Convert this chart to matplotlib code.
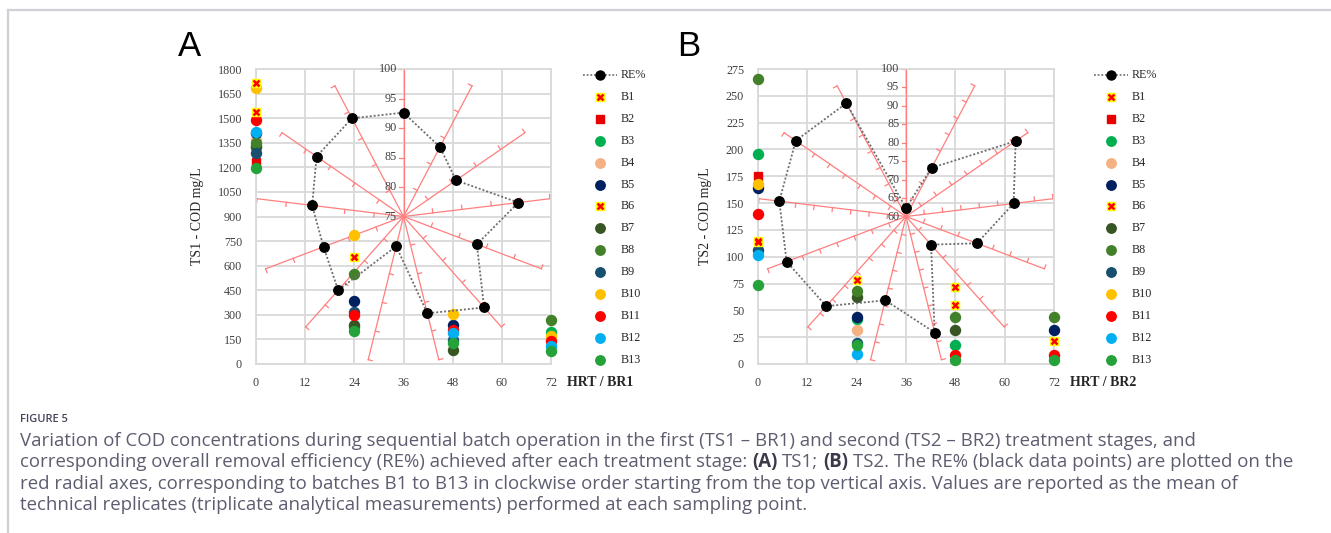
import numpy as np
import matplotlib.pyplot as plt
from matplotlib.transforms import Affine2D

W, H = 1331, 533
nan = np.nan

# HRT sampling points (h) and batch names
hrt = [0, 24, 48, 72]
batches = ['B1', 'B2', 'B3', 'B4', 'B5', 'B6', 'B7', 'B8', 'B9', 'B10', 'B11', 'B12', 'B13']

# COD (mg/L) per batch at HRT 0, 24, 48, 72 - stage 1 (TS1 / BR1)
cod_ts1 = [
    [1716, nan, nan, nan],
    [1234, nan, nan, nan],
    [1330, 224, nan, 195],
    [1367, nan, nan, nan],
    [1410, 386, 238, nan],
    [1539, 653, nan, nan],
    [1322, 240, 87, nan],
    [1347, 549, nan, 266],
    [1286, 317, 148, nan],
    [1682, 785, 307, 173],
    [1489, 301, 209, 142],
    [1417, nan, 189, 108],
    [1194, 199, 128, 77],
]

# COD (mg/L) per batch - stage 2 (TS2 / BR2)
cod_ts2 = [
    [115, nan, 72, nan],
    [175, nan, nan, nan],
    [196, 42, 17.7, nan],
    [nan, 32, nan, nan],
    [164, 43.8, nan, 31.7],
    [114, 78.6, 55, 21.8],
    [nan, 62, 31.7, nan],
    [266, 67.7, 44, 44],
    [106.6, 20, nan, nan],
    [168, nan, nan, nan],
    [140, nan, 8.4, 8.7],
    [102, 9.6, nan, nan],
    [74, 18, 4, 4],
]

# overall removal efficiency RE% for B1..B13 (radial axes)
re_ts1 = [92.6, 88.3, 85.8, 94.6, 88.3, 95.6, 91.9, 80.2, 91.7, 89.5, 90.6, 92.9, 93.8]
re_ts2 = [62.3, 74.9, 96.0, 89.3, 80.5, 70.2, 92.4, 83.4, 92.5, 94.5, 94.5, 96.2, 94.7]

colors = ['#ff0000', '#e60000', '#00b050', '#f4b183', '#002060', '#ff0000', '#375623',
          '#43802a', '#174f6e', '#ffc000', '#ff0000', '#00b0f0', '#25a23a']
markers = ['x', 's', 'o', 'o', 'o', 'x', 'o', 'o', 'o', 'o', 'o', 'o', 'o']

caption_lines = [
    [("Variation of COD concentrations during sequential batch operation in the first (TS1 \u2013 BR1) "
      "and second (TS2 \u2013 BR2) treatment stages, and", 'normal')],
    [("corresponding overall removal efficiency (RE%) achieved after each treatment stage:", 'normal'),
     ("(A)", 'bold'), ("TS1;", 'normal'), ("(B)", 'bold'),
     ("TS2. The RE% (black data points) are plotted on the", 'normal')],
    [("red radial axes, corresponding to batches B1 to B13 in clockwise order starting from the top "
      "vertical axis. Values are reported as the mean of", 'normal')],
    [("technical replicates (triplicate analytical measurements) performed at each sampling point.", 'normal')],
]

plt.rcParams['font.family'] = ['Liberation Serif', 'DejaVu Serif']
fig = plt.figure(figsize=(W / 100, H / 100), dpi=100)


def rect(l, t, r, b):
    return [l / W, 1 - b / H, (r - l) / W, (b - t) / H]


def draw_panel(box, cod, re, ymax, ystep, rmin, ylabel, xlabel):
    ax = fig.add_axes(rect(*box))
    ax.set_xlim(0, 72)
    ax.set_ylim(0, ymax)
    ax.set_xticks(np.arange(0, 73, 12))
    ax.set_yticks(np.arange(0, ymax + 1, ystep))
    ax.grid(True, color='#d9d9d9', lw=1.3)
    ax.set_axisbelow(True)
    for s in ax.spines.values():
        s.set_color('#d9d9d9')
        s.set_linewidth(1.3)
    ax.tick_params(length=0, labelsize=8.7, labelcolor='#404040', pad=9)
    ax.tick_params(axis='y', pad=10)
    ax.set_ylabel(ylabel, fontsize=10, color='#262626', labelpad=10)

    # COD scatter per batch
    for i, vals in enumerate(cod):
        if markers[i] == 'x':
            ax.plot(hrt, vals, ls='none', marker='s', ms=6.2, color='#ffff00', zorder=6, clip_on=False)
            ax.plot(hrt, vals, ls='none', marker='x', ms=5, mew=1.8, color=colors[i], zorder=7, clip_on=False)
        elif markers[i] == 's':
            ax.plot(hrt, vals, ls='none', marker='s', ms=6.3, color=colors[i], zorder=4, clip_on=False)
        else:
            ax.plot(hrt, vals, ls='none', marker='o', ms=7.2, color=colors[i], zorder=4, clip_on=False)

    # radar overlay: unit circle mapped on the plot box
    tr = Affine2D().scale(36, ymax / 2).translate(36, ymax / 2) + ax.transData
    n = len(re)
    ang = np.arange(n) * 2 * np.pi / n
    span = 100 - rmin
    tick_vals = np.arange(rmin + 5, 101, 5)
    for a in ang:
        d = np.array([np.sin(a), np.cos(a)])
        p = np.array([-d[1], d[0]])
        ax.plot([0, d[0]], [0, d[1]], color='#ff7f7f', lw=0.9, transform=tr, zorder=2, clip_on=False)
        for v in tick_vals:
            r = (v - rmin) / span
            ax.plot([r * d[0], r * d[0] + 0.028 * p[0]], [r * d[1], r * d[1] + 0.028 * p[1]],
                    color='#ff7f7f', lw=0.9, transform=tr, zorder=2, clip_on=False)
    for v in np.arange(rmin, 101, 5):
        ax.text(-0.045, (v - rmin) / span, str(v), ha='right', va='center', fontsize=8.7,
                color='#404040', transform=tr, zorder=3)
    rr = (np.array(re) - rmin) / span
    xs = np.append(rr * np.sin(ang), rr[0] * np.sin(ang[0]))
    ys = np.append(rr * np.cos(ang), rr[0] * np.cos(ang[0]))
    ax.plot(xs, ys, color='#6e6e6e', lw=1.3, ls=(0, (1.1, 1.1)), transform=tr, zorder=8, clip_on=False)
    ax.plot(xs[:-1], ys[:-1], ls='none', marker='o', ms=6.8, color='black', transform=tr, zorder=9,
            clip_on=False)

    fig.text((box[2] + 16) / W, 1 - 383 / H, xlabel, fontsize=10, fontweight='bold', color='#262626',
             va='center', ha='left')
    return ax


draw_panel((256, 69, 551, 364), cod_ts1, re_ts1, 1800, 150, 75, 'TS1 - COD mg/L', 'HRT / BR1')
draw_panel((758, 69, 1054, 364), cod_ts2, re_ts2, 275, 25, 60, 'TS2 - COD mg/L', 'HRT / BR2')

# overlay in pixel coordinates for legends, frame and caption
ov = fig.add_axes([0, 0, 1, 1], zorder=10)
ov.set_xlim(0, W)
ov.set_ylim(H, 0)
ov.axis('off')

ov.plot([8, 8], [H, 10], color='#cfcfd5', lw=1.6)
ov.plot([8, W], [10, 10], color='#cfcfd5', lw=1.6)

for letter, lx in [('A', 178), ('B', 677)]:
    ov.text(lx, 47, letter, fontsize=25, family='Liberation Sans', va='center', ha='left', color='black')

for mx in [600, 1111]:
    y0 = 75
    ov.plot([mx - 17, mx + 17], [y0, y0], color='#6e6e6e', lw=1.2, ls=(0, (1.1, 1.1)))
    ov.plot([mx], [y0], marker='o', ms=6.5, color='black')
    ov.text(mx + 21, y0, 'RE%', fontsize=8.7, va='center', color='#262626')
    for i, name in enumerate(batches):
        y = y0 + 21.9 * (i + 1)
        if markers[i] == 'x':
            ov.plot([mx], [y], marker='s', ms=6, color='#ffff00')
            ov.plot([mx], [y], marker='x', ms=4.8, mew=1.8, color=colors[i])
        elif markers[i] == 's':
            ov.plot([mx], [y], marker='s', ms=6, color=colors[i])
        else:
            ov.plot([mx], [y], marker='o', ms=6.8, color=colors[i])
        ov.text(mx + 21, y, name, fontsize=8.7, va='center', color='#262626')

# caption
cap_font = 'Open Sans'
cap_col = '#5d5d70'
ov.text(20, 420, 'FIGURE 5', fontsize=8, family=cap_font, fontweight='semibold', color='#45455a',
        va='center')
renderer = fig.canvas.get_renderer()
probe = ov.text(0, 0, caption_lines[1][0][0] + ' (A) TS1; (B) ' + caption_lines[1][4][0],
                fontsize=10, family=cap_font)
w10 = probe.get_window_extent(renderer).width
probe.remove()
cap_size = 10 * 1268 / w10
sp = ov.text(0, 0, 'a a', fontsize=cap_size, family=cap_font)
sp2 = ov.text(0, 0, 'aa', fontsize=cap_size, family=cap_font)
space_w = sp.get_window_extent(renderer).width - sp2.get_window_extent(renderer).width
sp.remove()
sp2.remove()
for j, segs in enumerate(caption_lines):
    x = 20
    y = 441 + 21.4 * j
    for s, wgt in segs:
        t = ov.text(x, y, s, fontsize=cap_size, family=cap_font, fontweight=wgt,
                    color='#3a3a4a' if wgt == 'bold' else cap_col, va='center', ha='left')
        x += t.get_window_extent(renderer).width + space_w

fig.savefig('out.png', dpi=100)
